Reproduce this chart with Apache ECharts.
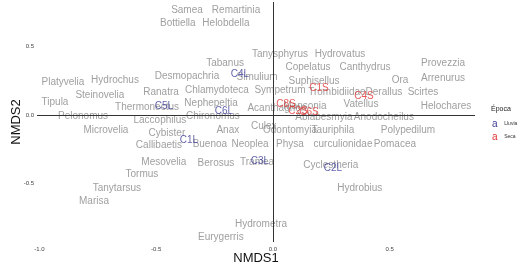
<!DOCTYPE html>
<html>
<head>
<meta charset="UTF-8">
<title>NMDS</title>
<style>
    html, body {margin:0; padding:0; background:#fff;}
    #main {width:528px; height:275px;}
</style>
</head>
<body>
<div id="main"></div>
<script src="https://cdn.jsdelivr.net/npm/echarts@6/dist/echarts.min.js"></script>
<script>
    // taxa scores
    var taxaNames = ['Samea','Remartinia','Bottiella','Helobdella','Tanysphyrus','Hydrovatus','Tabanus',
        'Copelatus','Canthydrus','Provezzia','Desmopachria','Simulium','Hydrochus','Platyvelia','Suphisellus',
        'Ora','Arrenurus','Steinovelia','Ranatra','Chlamydoteca','Sympetrum','Trombidiidae','Derallus','Scirtes',
        'Tipula','Thermonectus','Nephepeltia','Acanthagrion','Mansonia','Vatellus','Helochares','Ablabesmyia',
        'Anodocheilus','Pelonomus','Laccophilus','Chironomus','Microvelia','Cybister','Anax','Culex',
        'Odontomyia','Tauriphila','Polypedilum','Callibaetis','Buenoa','Neoplea','Physa','curculionidae',
        'Pomacea','Mesovelia','Berosus','Tramea','Cyclestheria','Hydrobius','Tormus','Tanytarsus','Marisa',
        'Hydrometra','Eurygerris'];
    var taxaX = [-0.368,-0.158,-0.407,-0.201,0.030,0.287,-0.205,
        0.150,0.394,0.728,-0.368,-0.068,-0.676,-0.899,0.176,
        0.544,0.728,-0.741,-0.479,-0.240,0.030,0.274,0.475,0.642,
        -0.933,-0.539,-0.265,0.017,0.137,0.377,0.741,0.218,
        0.475,-0.813,-0.484,-0.257,-0.715,-0.454,-0.193,-0.039,
        0.073,0.257,0.578,-0.488,-0.270,-0.098,0.073,0.300,
        0.522,-0.467,-0.244,-0.068,0.248,0.372,-0.561,-0.668,-0.766,
        -0.051,-0.223];
    var taxaY = [0.766,0.766,0.672,0.672,0.445,0.445,0.380,
        0.350,0.350,0.380,0.285,0.277,0.255,0.241,0.248,
        0.255,0.270,0.146,0.168,0.182,0.182,0.168,0.168,0.168,
        0.095,0.058,0.088,0.051,0.066,0.080,0.066,-0.015,
        -0.015,-0.007,-0.036,-0.007,-0.109,-0.131,-0.109,-0.080,
        -0.109,-0.109,-0.109,-0.219,-0.212,-0.212,-0.212,-0.212,
        -0.212,-0.343,-0.350,-0.343,-0.365,-0.533,-0.431,-0.533,-0.628,
        -0.796,-0.891];

    // site scores, rainy season
    var lluviaNames = ['C1L','C2L','C3L','C4L','C5L','C6L'];
    var lluviaX = [-0.360,0.257,-0.056,-0.141,-0.467,-0.210];
    var lluviaY = [-0.182,-0.387,-0.336,0.299,0.066,0.029];

    // site scores, dry season
    var secaNames = ['C1S','C4S','C8S','C2S','C6S'];
    var secaX = [0.197,0.390,0.056,0.107,0.154];
    var secaY = [0.197,0.139,0.080,0.029,0.022];

    var xTicks = [-1.0, -0.5, 0.0, 0.5];
    var yTicks = [-0.5, 0.0, 0.5];

    function pts(names, xs, ys) {
        return names.map(function (n, i) {
            return {name: n, value: [xs[i], ys[i]]};
        });
    }

    function textSeries(name, data, color) {
        return {
            name: name,
            type: 'scatter',
            symbolSize: 1,
            itemStyle: {color: 'rgba(0,0,0,0)'},
            label: {
                show: true,
                position: 'inside',
                formatter: '{b}',
                color: color,
                fontSize: 10,
                fontFamily: 'Liberation Sans, Arial, sans-serif'
            },
            emphasis: {disabled: true},
            data: data
        };
    }

    var myChart = echarts.init(document.getElementById('main'));

    var taxa = textSeries('taxa', pts(taxaNames, taxaX, taxaY), '#878787');
    taxa.markLine = {
        silent: true,
        symbol: 'none',
        label: {show: false},
        lineStyle: {color: '#333', width: 1, type: 'solid'},
        data: [{xAxis: 0}, {yAxis: 0}]
    };

    var option = {
        backgroundColor: '#fff',
        animation: false,
        title: {
            text: 'Época',
            left: 486,
            top: 101,
            textStyle: {fontSize: 7, fontWeight: 'normal', color: '#222', fontFamily: 'Liberation Sans, Arial'}
        },
        legend: {
            data: ['Lluvia', 'Seca'],
            orient: 'vertical',
            left: 482,
            top: 113,
            itemWidth: 0,
            itemHeight: 0,
            itemGap: 1,
            formatter: function (n) {
                return (n === 'Lluvia' ? '{b|a}' : '{r|a}') + '  {t|' + n + '}';
            },
            textStyle: {
                fontFamily: 'Liberation Sans, Arial',
                lineHeight: 11,
                rich: {
                    b: {color: '#3a3a96', fontSize: 10, lineHeight: 11},
                    r: {color: '#e0322f', fontSize: 10, lineHeight: 11},
                    t: {color: '#333', fontSize: 5, lineHeight: 11}
                }
            }
        },
        grid: {left: 37, right: 53, top: 2, bottom: 33, outerBoundsMode: 'none'},
        xAxis: {
            type: 'value',
            min: -1.01,
            max: 0.865,
            name: 'NMDS1',
            nameLocation: 'middle',
            nameGap: 10,
            nameMoveOverlap: false,
            nameTextStyle: {fontSize: 13, color: '#111', fontFamily: 'Liberation Sans, Arial'},
            axisLine: {show: false},
            axisTick: {show: false},
            splitLine: {show: false},
            axisLabel: {
                customValues: xTicks,
                fontSize: 6,
                color: '#444',
                margin: 4,
                formatter: function (v) { return v.toFixed(1); }
            }
        },
        yAxis: {
            type: 'value',
            min: -0.927,
            max: 0.825,
            name: 'NMDS2',
            nameLocation: 'middle',
            nameGap: 14,
            nameMoveOverlap: false,
            nameTextStyle: {fontSize: 13, color: '#111', fontFamily: 'Liberation Sans, Arial'},
            axisLine: {show: false},
            axisTick: {show: false},
            splitLine: {show: false},
            axisLabel: {
                customValues: yTicks,
                fontSize: 6,
                color: '#444',
                margin: 3,
                formatter: function (v) { return v.toFixed(1); }
            }
        },
        series: [
            taxa,
            textSeries('Lluvia', pts(lluviaNames, lluviaX, lluviaY), '#3a3a96'),
            textSeries('Seca', pts(secaNames, secaX, secaY), '#e0322f')
        ]
    };
    myChart.setOption(option);
</script>
</body>
</html>
